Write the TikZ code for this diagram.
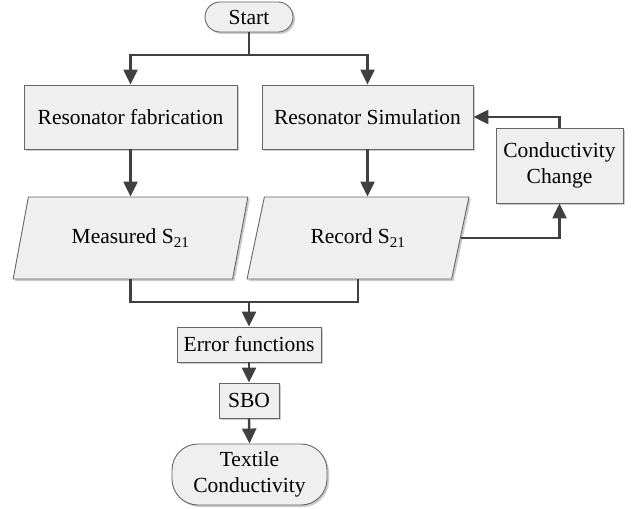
\documentclass[tikz,border=0pt]{standalone}
\usepackage{fontspec}
\setmainfont{Liberation Serif}
\usetikzlibrary{shapes.geometric,shadows,arrows.meta}
\definecolor{linegray}{HTML}{404040}
\definecolor{edgegray}{HTML}{666666}
\definecolor{boxgray}{HTML}{EFEFEF}
\begin{document}
\begin{tikzpicture}[x=1pt,y=-1pt,font=\fontsize{21.5}{26}\selectfont,
  boxshadow/.style={drop shadow={shadow xshift=2pt,shadow yshift=-2pt,fill=black!40,opacity=0.5}},
  block/.style={draw=edgegray,fill=boxgray,line width=0.9pt,boxshadow,align=center,inner sep=0pt},
  term/.style={block,rounded corners=15pt},
  io/.style={block,trapezium,trapezium left angle=64,trapezium right angle=116,
    trapezium stretches=true},
  line/.style={draw=linegray,line width=2.4pt},
  conn/.style={line,-{Triangle[length=15pt,width=14pt]}}]

  \useasboundingbox (0,0) rectangle (636,508);

  \draw node[term,minimum width=88,minimum height=30] (start) at (249,17) {Start};

  \draw node[block,minimum width=213,minimum height=64] (fab) at (130.5,117) {Resonator fabrication};
  \draw node[block,minimum width=211,minimum height=64] (sim) at (367.5,117) {Resonator Simulation};
  \draw node[block,minimum width=127,minimum height=75] (cond) at (559.5,165.5) {Conductivity\\Change};

  \draw node[io,minimum width=235,minimum height=82] (meas) at (130.5,238) {Measured S\textsubscript{21}};
  \draw node[io,minimum width=222,minimum height=82] (rec) at (358,238) {Record S\textsubscript{21}};

  \draw node[block,minimum width=144,minimum height=35] (err) at (249,344.5) {Error functions};
  \draw node[block,minimum width=60,minimum height=35] (sbo) at (249,400.5) {SBO};
  \draw node[term,rounded corners=26pt,minimum width=155,minimum height=61] (tex) at (249.5,474.5) {Textile\\Conductivity};

  \coordinate (split) at (249,55);
  \coordinate (join) at (249,302);

  \draw[line] (start.south) -- (split);
  \draw[conn] (split) -| (fab.north);
  \draw[conn] (split) -| (sim.north);
  \draw[conn] (fab.south) -- (fab.south |- meas.north);
  \draw[conn] (sim.south) -- (sim.south |- rec.north);
  \draw[conn] (rec.east) -| (cond.south);
  \draw[conn] (cond.north) |- (sim.east);
  \draw[line] (meas.south) |- (join);
  \draw[line] (rec.south) |- (join);
  \draw[conn] (join) -- (err.north);
  \draw[conn] (err.south) -- (sbo.north);
  \draw[conn] (sbo.south) -- (tex.north);

\end{tikzpicture}
\end{document}
